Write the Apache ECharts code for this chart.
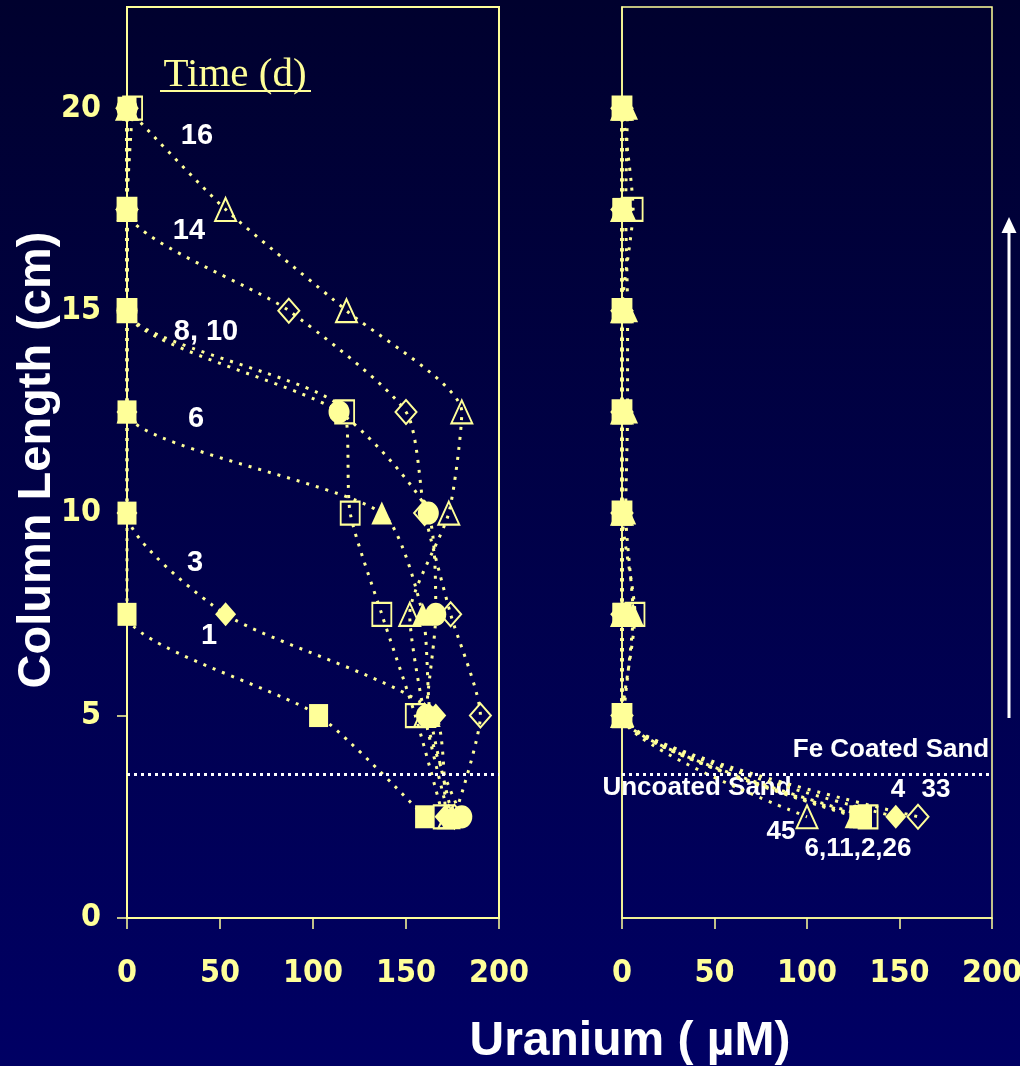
<!DOCTYPE html>
<html>
<head>
<meta charset="utf-8">
<script src="https://cdn.jsdelivr.net/npm/echarts@6/dist/echarts.min.js"></script>
<style>
html,body{margin:0;padding:0;}
body{background:linear-gradient(#00012e,#000064);}
#c{width:1020px;height:1066px;}
</style>
</head>
<body>
<div id="c"></div>
<script>
// ---- data ----
const depth = [20, 17.5, 15, 12.5, 10, 7.5, 5, 2.5];          // column length (cm)
const xTicks = [0, 50, 100, 150, 200];
const yTicks = [0, 5, 10, 15, 20];
const boundary = 3.55;                                         // Fe coated / uncoated sand boundary

// left panel (uranium, µM) by day
const L_day1  = [0, 0, 0, 0, 0, 0, 103, 160];
const L_day3  = [0, 0, 0, 0, 0, 53, 166, 171];
const L_day6  = [0, 0, 0, 0, 137, 159, 163, 175];
const L_day8  = [3, 0, 0, 117, 120, 137, 155, 170];
const L_day10 = [0, 0, 0, 114, 162, 166, 161, 180];
const L_day14 = [0, 0, 87, 150, 160, 174, 190, 176];
const L_day16 = [0, 53, 118, 180, 173, 152, 160, 173];

// right panel by day
const R_day2  = [0, 0, 0, 0, 0, 0, 0, 130];
const R_day4  = [0, 0, 0, 0, 0, 0, 0, 148];
const R_day6  = [3, 2, 3, 3, 2, 6, 1, 126];
const R_day11 = [0, 0, 0, 0, 0, 0, 0, 128];
const R_day26 = [0, 6, 0, 0, 0, 7, 0, 133];
const R_day33 = [0, 0, 0, 0, 0, 0, 0, 160];
const R_day45 = [0, 0, 0, 0, 0, 0, 0, 100];

const leftLabels = ['16', '14', '8, 10', '6', '3', '1'];
const rightLabels = ['Fe Coated Sand', 'Uncoated Sand', '4', '33', '45', '6,11,2,26'];

// ---- styling ----
const Y = '#ffff99';
const NARROW = "'Liberation Sans Narrow','Arial Narrow','DejaVu Sans Condensed','Liberation Sans',sans-serif";
const SANS = "'Liberation Sans',Arial,sans-serif";
const SQ = [19, 23], DI = [21, 24], TR = [21, 23], CI = [21, 23];

function mk(name, vals, gi, sym, filled, size, z) {
  return {
    type: 'line', name: name, xAxisIndex: gi, yAxisIndex: gi,
    data: vals.map((v, i) => [v, depth[i]]),
    smooth: 0.22, clip: false, symbol: sym, symbolSize: size, z: z || 2,
    lineStyle: { color: Y, width: 3, type: [3, 7] },
    itemStyle: filled ? { color: Y, borderWidth: 0 } : { color: 'rgba(0,0,0,0)', borderColor: Y, borderWidth: 2 },
    emphasis: { disabled: true }
  };
}

const boundaryLine = {
  silent: true, symbol: ['none', 'none'], label: { show: false },
  lineStyle: { color: '#ffffff', type: [3, 4], width: 3 },
  data: [{ yAxis: boundary }]
};

const series = [
  mk('16 d', L_day16, 0, 'triangle', false, TR),
  mk('14 d', L_day14, 0, 'diamond', false, DI),
  mk('10 d', L_day10, 0, 'circle', true, CI),
  mk('8 d',  L_day8,  0, 'rect', false, SQ),
  mk('6 d',  L_day6,  0, 'triangle', true, TR),
  mk('3 d',  L_day3,  0, 'diamond', true, DI),
  mk('1 d',  L_day1,  0, 'rect', true, SQ, 3),
  mk('45 d', R_day45, 1, 'triangle', false, TR),
  mk('33 d', R_day33, 1, 'diamond', false, DI),
  mk('26 d', R_day26, 1, 'rect', false, SQ),
  mk('6 d R', R_day6, 1, 'triangle', true, TR),
  mk('11 d', R_day11, 1, 'rect', true, SQ),
  mk('4 d',  R_day4,  1, 'diamond', true, DI),
  mk('2 d',  R_day2,  1, 'rect', true, SQ, 3)
];
series[0].markLine = boundaryLine;
series[7].markLine = boundaryLine;

function xAx(gi, lw) {
  return {
    type: 'value', gridIndex: gi, min: 0, max: 200, interval: 50,
    axisLine: { show: true, lineStyle: { color: Y, width: lw } },
    axisTick: { show: true, inside: false, length: 11, lineStyle: { color: Y, width: 1.5 } },
    axisLabel: { color: Y, fontFamily: NARROW, fontWeight: 'bold', fontSize: 32, margin: 40, customValues: xTicks },
    splitLine: { show: false }
  };
}

const option = {
  backgroundColor: 'transparent',
  animation: false,
  grid: [
    { left: 127, top: 7, width: 372, height: 911, show: true, borderColor: Y, borderWidth: 2, backgroundColor: 'transparent', outerBoundsMode: 'none', containLabel: false },
    { left: 622, top: 7, width: 370, height: 911, show: true, borderColor: Y, borderWidth: 1.5, backgroundColor: 'transparent', outerBoundsMode: 'none', containLabel: false }
  ],
  xAxis: [xAx(0, 2), xAx(1, 1.5)],
  yAxis: [
    {
      type: 'value', gridIndex: 0, min: 0, max: 22.5, interval: 5,
      axisLine: { show: true, lineStyle: { color: Y, width: 2 } },
      axisTick: { show: true, inside: false, length: 10, customValues: yTicks, lineStyle: { color: Y, width: 1.5 } },
      axisLabel: { color: Y, fontFamily: NARROW, fontWeight: 'bold', fontSize: 32, margin: 26, customValues: yTicks },
      splitLine: { show: false }
    },
    {
      type: 'value', gridIndex: 1, min: 0, max: 22.5, interval: 5,
      axisLine: { show: true, lineStyle: { color: Y, width: 1.5 } },
      axisTick: { show: false }, axisLabel: { show: false }, splitLine: { show: false }
    }
  ],
  series: series,
  graphic: [
    // axis titles
    { type: 'text', x: 37, y: 460, rotation: Math.PI / 2, style: { text: 'Column Length (cm)', fill: '#ffffff', font: 'bold 47px ' + SANS, textAlign: 'center', textVerticalAlign: 'middle' } },
    { type: 'text', x: 630, y: 1042, style: { text: 'Uranium ( µM)', fill: '#ffffff', font: 'bold 48px ' + SANS, textAlign: 'center', textVerticalAlign: 'middle' } },
    // legend title
    { type: 'text', x: 235, y: 75, style: { text: 'Time (d)', fill: Y, font: "41px 'Liberation Serif','Times New Roman',serif", textAlign: 'center', textVerticalAlign: 'middle' } },
    { type: 'line', shape: { x1: 160, y1: 91, x2: 311, y2: 91 }, style: { stroke: Y, lineWidth: 2 } },
    // left curve labels
    { type: 'text', x: 197, y: 136, style: { text: leftLabels[0], fill: '#fff', font: 'bold 29px ' + SANS, textAlign: 'center', textVerticalAlign: 'middle' } },
    { type: 'text', x: 189, y: 231, style: { text: leftLabels[1], fill: '#fff', font: 'bold 29px ' + SANS, textAlign: 'center', textVerticalAlign: 'middle' } },
    { type: 'text', x: 206, y: 332, style: { text: leftLabels[2], fill: '#fff', font: 'bold 29px ' + SANS, textAlign: 'center', textVerticalAlign: 'middle' } },
    { type: 'text', x: 196, y: 419, style: { text: leftLabels[3], fill: '#fff', font: 'bold 29px ' + SANS, textAlign: 'center', textVerticalAlign: 'middle' } },
    { type: 'text', x: 195, y: 563, style: { text: leftLabels[4], fill: '#fff', font: 'bold 29px ' + SANS, textAlign: 'center', textVerticalAlign: 'middle' } },
    { type: 'text', x: 209, y: 636, style: { text: leftLabels[5], fill: '#fff', font: 'bold 29px ' + SANS, textAlign: 'center', textVerticalAlign: 'middle' } },
    // right panel labels
    { type: 'text', x: 891, y: 750, style: { text: rightLabels[0], fill: '#fff', font: 'bold 26px ' + SANS, textAlign: 'center', textVerticalAlign: 'middle' } },
    { type: 'text', x: 697, y: 788, style: { text: rightLabels[1], fill: '#fff', font: 'bold 26px ' + SANS, textAlign: 'center', textVerticalAlign: 'middle' } },
    { type: 'text', x: 898, y: 790, style: { text: rightLabels[2], fill: '#fff', font: 'bold 26px ' + SANS, textAlign: 'center', textVerticalAlign: 'middle' } },
    { type: 'text', x: 936, y: 790, style: { text: rightLabels[3], fill: '#fff', font: 'bold 26px ' + SANS, textAlign: 'center', textVerticalAlign: 'middle' } },
    { type: 'text', x: 781, y: 832, style: { text: rightLabels[4], fill: '#fff', font: 'bold 26px ' + SANS, textAlign: 'center', textVerticalAlign: 'middle' } },
    { type: 'text', x: 858, y: 849, style: { text: rightLabels[5], fill: '#fff', font: 'bold 26px ' + SANS, textAlign: 'center', textVerticalAlign: 'middle' } },
    // flow arrow
    { type: 'line', shape: { x1: 1009, y1: 718, x2: 1009, y2: 230 }, style: { stroke: '#ffffff', lineWidth: 3 } },
    { type: 'polygon', shape: { points: [[1009, 217], [1001.5, 233], [1016.5, 233]] }, style: { fill: '#ffffff' } }
  ]
};

const chart = echarts.init(document.getElementById('c'), null, { renderer: 'canvas' });
chart.setOption(option);
</script>
</body>
</html>
